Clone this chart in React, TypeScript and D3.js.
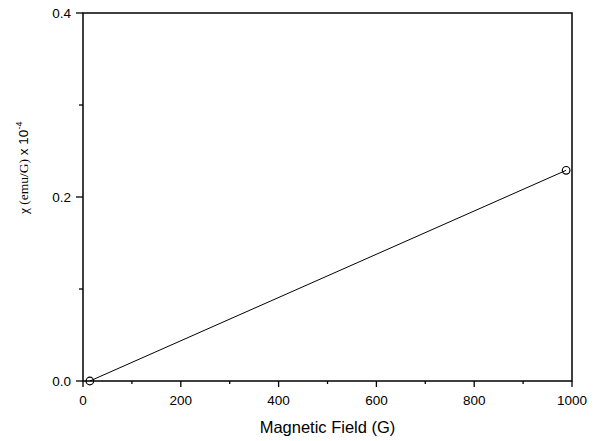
import React from "react";
import * as d3 from "d3";

// readings
const fieldG = [14, 988];
const chi = [0.0, 0.229];
const xMajor = [0, 200, 400, 600, 800, 1000];
const xMinor = [100, 300, 500, 700, 900];
const yMajor = [0.0, 0.2, 0.4];
const yMinor = [0.1, 0.3];

const W = 600;
const H = 441;
const left = 83;
const right = 572;
const top = 13;
const bottom = 381;

export default function App() {
  const x = d3.scaleLinear().domain([0, 1000]).range([left, right]);
  const y = d3.scaleLinear().domain([0, 0.4]).range([bottom, top]);
  const pts = fieldG.map((f, i) => ({ f, c: chi[i] }));
  const line = d3
    .line<{ f: number; c: number }>()
    .x(d => x(d.f))
    .y(d => y(d.c));
  const sans = "'Liberation Sans', Arial, sans-serif";
  const serif = "'Liberation Serif', 'Times New Roman', serif";

  return (
    <svg
      width={W}
      height={H}
      style={{ position: "absolute", left: 0, top: 0, background: "#fff" }}
    >
      <rect x={left} y={top} width={right - left} height={bottom - top} fill="none" stroke="#000" strokeWidth={1.5} />

      {xMajor.map(t => (
        <g key={"xM" + t}>
          <line x1={x(t)} x2={x(t)} y1={bottom} y2={bottom + 6} stroke="#000" strokeWidth={1.3} />
          <text x={x(t)} y={405} textAnchor="middle" fontFamily={sans} fontSize={13.5}>
            {t}
          </text>
        </g>
      ))}
      {xMinor.map(t => (
        <line key={"xm" + t} x1={x(t)} x2={x(t)} y1={bottom} y2={bottom + 3} stroke="#000" strokeWidth={1.3} />
      ))}
      {yMajor.map(t => (
        <g key={"yM" + t}>
          <line x1={left - 7} x2={left} y1={y(t)} y2={y(t)} stroke="#000" strokeWidth={1.3} />
          <text x={71} y={y(t) + 4.5} textAnchor="end" fontFamily={sans} fontSize={13.5}>
            {t.toFixed(1)}
          </text>
        </g>
      ))}
      {yMinor.map(t => (
        <line key={"ym" + t} x1={left - 4} x2={left} y1={y(t)} y2={y(t)} stroke="#000" strokeWidth={1.3} />
      ))}

      <path d={line(pts) || ""} fill="none" stroke="#000" strokeWidth={1} />
      {pts.map((d, i) => (
        <circle key={i} cx={x(d.f)} cy={y(d.c)} r={3.8} fill="none" stroke="#000" strokeWidth={1.2} />
      ))}

      <text x={(left + right) / 2} y={433} textAnchor="middle" fontFamily={sans} fontSize={16.5}>
        Magnetic Field (G)
      </text>
      <text transform="translate(28,214) rotate(-90)" fontSize={13.5}>
        <tspan fontFamily={serif}>χ (emu/G)</tspan>
        <tspan fontFamily={sans}> x 10</tspan>
        <tspan fontFamily={sans} fontSize={9} dy={-6}>-4</tspan>
      </text>
    </svg>
  );
}
